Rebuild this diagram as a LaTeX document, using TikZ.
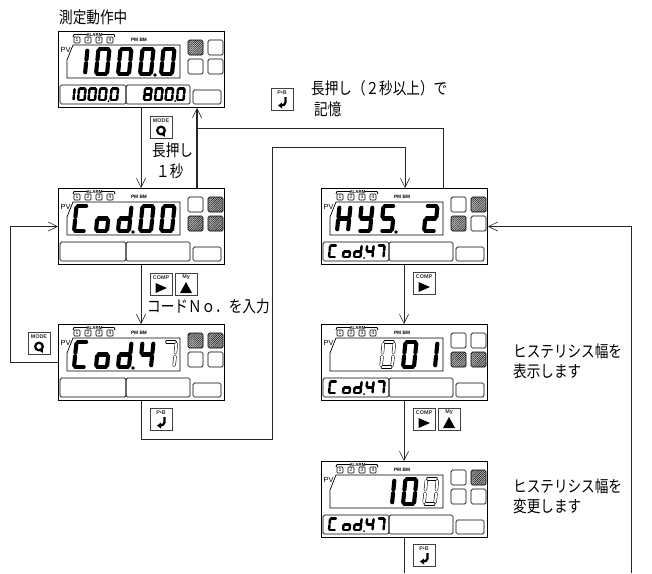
\documentclass[tikz,border=0pt]{standalone}
\usepackage{fontspec}
\setmainfont{Noto Sans CJK JP}
\newfontfamily\lab{Liberation Sans}
\usetikzlibrary{arrows.meta,patterns.meta}
\tikzset{
  conn/.style={draw=black!85,line width=.8pt},
  arr/.style={-{Straight Barb[length=9pt,width=9pt,line width=.6pt]}},
  sqbox/.style={draw=black,line width=.7pt,rounded corners=1.5pt},
  sqw/.style={fill=white},
  sqh/.style={preaction={fill=black!25},pattern={Lines[angle=45,distance=1.5pt,line width=.42pt]},pattern color=black},
  panelbox/.style={draw=black,line width=1pt,fill=white,minimum width=166pt,minimum height=76pt,inner sep=0pt,anchor=north west},
  btnbox/.style={draw=black!75,line width=1pt,fill=white,minimum width=22pt,minimum height=22pt,inner sep=0pt,anchor=north west},
  txt/.style={anchor=west,inner sep=0pt,yscale=1.2,transform shape,font=\fontsize{13.6pt}{14pt}\selectfont},
  tiny/.style={inner sep=0pt,font=\lab\fontsize{4.6pt}{5pt}\selectfont},
  btnlab/.style={inner sep=0pt,font=\lab\bfseries\fontsize{5.4pt}{5.4pt}\selectfont,text=black!80}
}
\def\sega{(.12,1)--(.88,1)}
\def\segb{(1,.93)--(1,.57)}
\def\segc{(1,.43)--(1,.07)}
\def\segd{(.12,0)--(.88,0)}
\def\sege{(0,.07)--(0,.43)}
\def\segf{(0,.57)--(0,.93)}
\def\segg{(.12,.5)--(.88,.5)}
\def\zero{a,b,c,d,e,f}
\def\one{b,c}
% filled digit: x, bottom y, w, h, lw, segments
\newcommand\digF[6]{\begin{scope}[shift={(#1,#2)},x=#3pt,y=#4pt,xslant=.1]
  \edef\mylist{#6}
  \foreach \s in \mylist {\expandafter\let\expandafter\thisseg\csname seg\s\endcsname
    \draw[line width=#5pt,line cap=round] \thisseg;}
\end{scope}}
% hollow digit
\newcommand\digH[6]{\begin{scope}[shift={(#1,#2)},x=#3pt,y=#4pt,xslant=.1]
  \edef\mylist{#6}
  \foreach \s in \mylist {\expandafter\let\expandafter\thisseg\csname seg\s\endcsname
    \draw[line width=#5pt,line cap=round] \thisseg;
    \draw[line width=#5pt-1.1pt,line cap=round,white] \thisseg;}
\end{scope}}
\newcommand\mF[2]{\digF{#1}{43}{11}{25}{4.1}{#2}}
\newcommand\mH[2]{\digH{#1}{43}{11}{25}{3.3}{#2}}
\newcommand\sF[2]{\digF{#1}{69}{6.5}{11.5}{2.5}{#2}}
\newcommand\bigdot[1]{\fill (#1,44) circle (1.8pt);}
\newcommand\smalldot[1]{\fill (#1,70) circle (1pt);}
% name, x, y, squares TL TR BL BR
\newcommand\panel[7]{%
  \node[panelbox] (#1) at (#2,#3) {};
  \begin{scope}[shift={(#2,#3)}]
    \draw[line width=.7pt] (9,29) -- (15,14) -- (122,14) -- (122,47) -- (9,47) -- cycle;
    \node[inner sep=0pt,font=\lab\fontsize{7.4pt}{7.4pt}\selectfont] (#1pv) at (7.5,18.5) {PV};
    \draw[line width=.9pt] (15,6) -- (16,3.5) -- (29,3.5) (44,3.5) -- (56,3.5) -- (57,6);
    \node[tiny,font=\lab\bfseries\fontsize{4.4pt}{4.4pt}\selectfont] (#1al) at (36.5,3.5) {ALARM};
    \foreach \i/\xx in {1/19,2/30,3/41,4/52}{
      \node[draw,line width=.6pt,rounded corners=.8pt,minimum size=6pt,inner sep=0pt,font=\lab\fontsize{5pt}{5pt}\selectfont] (#1a\i) at (\xx,9) {\i};}
    \node[tiny,font=\lab\bfseries\fontsize{4.8pt}{5pt}\selectfont] (#1pm) at (81,9) {PM BM};
    \draw[sqbox,#4] (130,9) rectangle (145,24);
    \draw[sqbox,#5] (150,9) rectangle (165,24);
    \draw[sqbox,#6] (130,28) rectangle (145,43);
    \draw[sqbox,#7] (150,28) rectangle (165,43);
    \draw[sqbox] (2,54) rectangle (68,73);
    \draw[sqbox] (68,54) rectangle (132,73);
    \draw[sqbox] (135,59) rectangle (163,73);
  \end{scope}}
\newcommand\icomode{\draw[line width=2.2pt] (11,14.5) circle (3.8pt);
  \fill (11,18.5) -- (14.8,20.8) -- (14.8,16.5) -- cycle;}
\newcommand\icotri{\fill (5.5,10) -- (17,15) -- (5.5,20) -- cycle;}
\newcommand\icoup{\fill (5,20) -- (17,20) -- (11,9) -- cycle;}
\newcommand\icoent{\draw[line width=2.2pt] (14.5,9) -- (14.5,14.5) to[out=-90,in=0] (10,17.5);
  \fill (7,17.5) -- (11,14.5) -- (11,20.5) -- cycle;}
% name, x, y, label, icon
\newcommand\btn[5]{%
  \node[btnbox] (#1) at (#2,#3) {};
  \begin{scope}[shift={(#2,#3)}]
    \node[btnlab] (#1t) at (11,4.2) {#4};
    #5
  \end{scope}}
\begin{document}
\begin{tikzpicture}[x=1pt,y=-1pt]
\useasboundingbox (0,0) rectangle (652,573);
% panels
\panel{pa}{58}{31}{sqh}{sqw}{sqw}{sqw}
\panel{pb}{58}{188}{sqw}{sqh}{sqh}{sqh}
\panel{pc}{58}{324}{sqh}{sqh}{sqw}{sqw}
\panel{ra}{321}{188}{sqw}{sqh}{sqh}{sqw}
\panel{rb}{321}{324}{sqw}{sqw}{sqh}{sqh}
\panel{rc}{321}{461}{sqw}{sqh}{sqw}{sqw}
% panel a
\begin{scope}[shift={(58,31)}]
  \mF{16}{\one}\mF{38}{\zero}\mF{60}{\zero}\mF{82}{\zero}\mF{103}{\zero}\bigdot{97}
  \sF{9}{\one}\sF{20}{\zero}\sF{30.5}{\zero}\sF{41}{\zero}\sF{52.5}{\zero}\smalldot{50.5}
  \sF{86}{a,b,c,d,e,f,g}\sF{97}{\zero}\sF{107.5}{\zero}\sF{119}{\zero}\smalldot{117}
\end{scope}
% panel b
\begin{scope}[shift={(58,188)}]
  \mF{16}{a,d,e,f}\mF{38}{c,d,e,g}\mF{60}{b,c,d,e,g}\mF{82}{\zero}\mF{103}{\zero}\bigdot{75}
\end{scope}
% panel c
\begin{scope}[shift={(58,324)}]
  \mF{16}{a,d,e,f}\mF{38}{c,d,e,g}\mF{60}{b,c,d,e,g}\mF{82}{b,c,f,g}\mH{105}{a,b,c}\bigdot{75}
\end{scope}
% panel ra
\begin{scope}[shift={(321,188)}]
  \mF{16}{b,c,e,f,g}\mF{38}{b,c,d,f,g}\mF{60}{a,c,d,f,g}\mF{103}{a,b,d,e,g}\bigdot{75}
\end{scope}
% panel rb
\begin{scope}[shift={(321,324)}]
  \mH{60}{\zero}\mF{82}{\zero}\mF{103}{\one}
\end{scope}
% panel rc
\begin{scope}[shift={(321,461)}]
  \mF{60}{\one}\mF{82}{\zero}\mH{103}{\zero}
\end{scope}
\foreach \px/\py in {321/188,321/324,321/461}{
\begin{scope}[shift={(\px,\py)}]
  \sF{8}{a,d,e,f}\sF{22}{c,d,e,g}\sF{33}{b,c,d,e,g}\sF{45}{b,c,f,g}\sF{56}{a,b,c}\smalldot{43}
\end{scope}}
% buttons
\btn{bma}{150}{116}{MODE}{\icomode}
\btn{bca}{150}{273}{COMP}{\icotri}
\btn{bmy}{175}{273}{My}{\icoup}
\btn{bmb}{28}{332}{MODE}{\icomode}
\btn{bpa}{150}{408}{P•B}{\icoent}
\btn{bpb}{271}{88}{P•B}{\icoent}
\btn{bcb}{413}{272}{COMP}{\icotri}
\btn{bcc}{413}{408}{COMP}{\icotri}
\btn{bmc}{438}{408}{My}{\icoup}
\btn{bpc}{413}{544}{P•B}{\icoent}
% free coordinates
\coordinate (cl) at (141,0);
\coordinate (cr) at (404,0);
\coordinate (cu) at (197,0);
\coordinate (jn) at (197,128);
\coordinate (jt) at (443,128);
\coordinate (lb) at (141,439);
\coordinate (lm) at (272,439);
\coordinate (lt) at (272,147);
\coordinate (lr) at (405,147);
\coordinate (wl) at (10,0);
\coordinate (er) at (631,0);
\coordinate (eb) at (631,573);
\coordinate (rbot) at (404,573);
% connectors
\draw[conn,arr] (cl |- pa.south) -- (cl |- pb.north);
\draw[conn,arr] (cl |- pb.south) -- (cl |- pc.north);
\draw[conn,arr,line width=1.1pt] (cu |- pb.north) -- (cu |- pa.south);
\draw[conn] (jn) -- (jt) -- (jt |- ra.north);
\draw[conn,arr] (cl |- pc.south) -- (lb) -- (lm) -- (lt) -- (lr) -- (lr |- ra.north);
\draw[conn,arr] (pc.west) -- (wl |- pc.west) -- (wl |- pb.west) -- (pb.west);
\draw[conn,arr] (cr |- ra.south) -- (cr |- rb.north);
\draw[conn,arr] (cr |- rb.south) -- (cr |- rc.north);
\draw[conn] (cr |- rc.south) -- (rbot);
\draw[conn,arr] (eb) -- (er |- ra.east) -- (ra.east);
% texts
\node[txt] (t1) at (59,17) {測定動作中};
\node[txt] (t2) at (152,150) {長押し};
\node[txt] (t3) at (156,171) {１秒};
\node[txt] (t4) at (147,306) {コードＮｏ．を入力};
\node[txt] (t5) at (311,88.5) {長押し（２秒以上）で};
\node[txt] (t6) at (314,109) {記憶};
\node[txt] (t7) at (513,351.5) {ヒステリシス幅を};
\node[txt] (t8) at (513,371) {表示します};
\node[txt] (t9) at (513,486.5) {ヒステリシス幅を};
\node[txt] (t10) at (513,506) {変更します};
\end{tikzpicture}
\end{document}
